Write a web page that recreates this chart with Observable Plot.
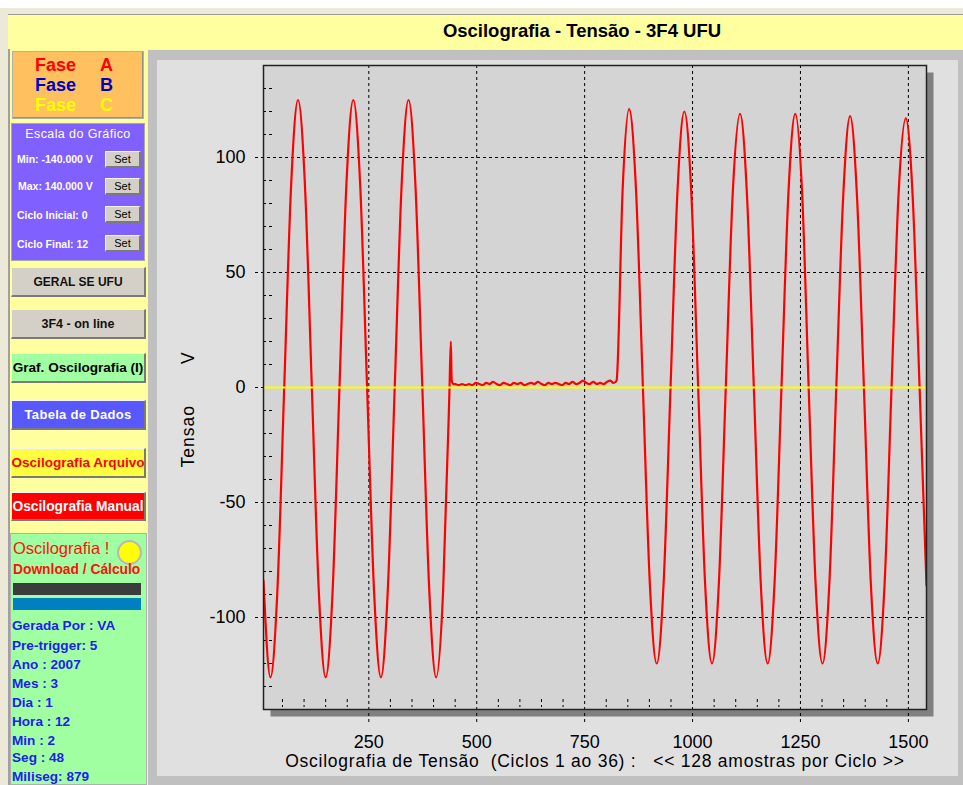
<!DOCTYPE html>
<html><head><meta charset="utf-8">
<script src="https://cdn.jsdelivr.net/npm/d3@7"></script>
<script src="https://cdn.jsdelivr.net/npm/@observablehq/plot@0.6"></script>
<style>
html,body{margin:0;padding:0;}
body{width:963px;height:785px;position:relative;overflow:hidden;background:#fff;font-family:"Liberation Sans",Arial,sans-serif;}
.a{position:absolute;box-sizing:border-box;}
.btn{border-style:solid;border-width:1px 2px 2px 1px;border-color:#f4f4f4 #7a7a7a #7a7a7a #f4f4f4;display:flex;align-items:center;justify-content:center;font-weight:bold;white-space:nowrap;}
.set{background:#d4d0c8;font-size:11px;font-weight:normal;color:#000;}
.row{color:#fff;font-weight:bold;font-size:10.5px;white-space:nowrap;}
.info{color:#2020f0;font-weight:bold;font-size:13.6px;white-space:nowrap;left:12px;}
.fase{font-weight:bold;font-size:18px;line-height:20px;white-space:nowrap;}
</style>
</head><body>
<div class="a" style="left:0;top:8px;width:963px;height:777px;background:#ece9d8;"></div>
<div class="a" style="left:8px;top:14px;width:955px;height:35px;background:#ffffa0;border-top:1px solid #9a9a9a;"></div>
<div class="a" id="title" style="left:382px;top:20px;width:400px;text-align:center;font-weight:bold;font-size:18.5px;">Oscilografia - Tensão - 3F4 UFU</div>
<div class="a" style="left:8px;top:49px;width:140px;height:736px;background:#ffffa0;border-left:2px solid #a0a0a0;"></div>
<div class="a" style="left:147px;top:49px;width:816px;height:736px;background:#c0c0c0;border-left:1px solid #f0f0f0;border-top:1px solid #f0f0f0;"></div>
<div class="a" style="left:157px;top:60px;width:801px;height:716px;background:#e0e0e0;"></div>

<!-- Fase box -->
<div class="a" style="left:12px;top:51px;width:132px;height:68px;background:#ffc060;border:1px solid #b0b0b0;box-shadow:inset -1px -1px 0 #909090;"></div>
<div class="a fase" style="left:35px;top:55px;color:#ff0000;">Fase</div>
<div class="a fase" style="left:100px;top:55px;color:#ff0000;">A</div>
<div class="a fase" style="left:35px;top:75px;color:#0000c0;">Fase</div>
<div class="a fase" style="left:100px;top:75px;color:#0000c0;">B</div>
<div class="a fase" style="left:35px;top:95px;color:#ffff00;">Fase</div>
<div class="a fase" style="left:100px;top:95px;color:#ffff00;">C</div>

<!-- Escala -->
<div class="a" style="left:11px;top:123px;width:134px;height:138px;background:#8060ff;border:1px solid #a8a8a8;"></div>
<div class="a" style="left:11px;top:127px;width:134px;text-align:center;color:#fff;font-size:12.5px;letter-spacing:0.4px;">Escala do Gráfico</div>
<div class="a row" style="left:17px;top:153px;">Min: -140.000 V</div>
<div class="a row" style="left:18px;top:180px;">Max: 140.000 V</div>
<div class="a row" style="left:17px;top:209px;">Ciclo Inicial: 0</div>
<div class="a row" style="left:17px;top:238px;">Ciclo Final: 12</div>
<div class="a btn set" style="left:105px;top:151px;width:36px;height:17px;">Set</div>
<div class="a btn set" style="left:105px;top:178px;width:36px;height:17px;">Set</div>
<div class="a btn set" style="left:105px;top:206px;width:36px;height:17px;">Set</div>
<div class="a btn set" style="left:105px;top:235px;width:36px;height:17px;">Set</div>

<!-- Buttons -->
<div class="a btn" style="left:11px;top:267px;width:135px;height:30px;background:#d4d0c8;font-size:12px;color:#111;">GERAL SE UFU</div>
<div class="a btn" style="left:11px;top:309px;width:135px;height:30px;background:#d4d0c8;font-size:12.5px;color:#111;">3F4 - on line</div>
<div class="a btn" style="left:11px;top:353px;width:135px;height:30px;background:#a0ffa0;font-size:13.6px;color:#000;">Graf. Oscilografia (I)</div>
<div class="a btn" style="left:11px;top:400px;width:135px;height:30px;background:#5858ff;font-size:13px;color:#fff;letter-spacing:0.3px;">Tabela de Dados</div>
<div class="a btn" style="left:11px;top:448px;width:135px;height:30px;background:#ffff40;font-size:13.6px;color:#ff0000;">Oscilografia Arquivo</div>
<div class="a btn" style="left:11px;top:492px;width:135px;height:29px;background:#ff0000;font-size:13.8px;color:#fff;">Oscilografia Manual</div>

<!-- Green info panel -->
<div class="a" style="left:10px;top:533px;width:137px;height:252px;background:#a0ffa0;border:1px solid #b0b0b0;"></div>
<div class="a" style="left:13px;top:539px;color:#ff1010;font-size:16.5px;white-space:nowrap;">Oscilografia !</div>
<div class="a" style="left:117px;top:540px;width:25px;height:25px;border-radius:50%;background:#ffff00;border:2px solid #b8b8b8;"></div>
<div class="a" style="left:13px;top:562px;color:#ff1010;font-size:13.8px;font-weight:bold;white-space:nowrap;">Download / Cálculo</div>
<div class="a" style="left:13px;top:583px;width:128px;height:12px;background:#3c3c3c;"></div>
<div class="a" style="left:13px;top:598px;width:128px;height:12px;background:#0080c0;"></div>
<div class="a info" style="top:618px;">Gerada Por : VA</div>
<div class="a info" style="top:638px;">Pre-trigger: 5</div>
<div class="a info" style="top:657px;">Ano : 2007</div>
<div class="a info" style="top:676px;">Mes : 3</div>
<div class="a info" style="top:695px;">Dia : 1</div>
<div class="a info" style="top:714px;">Hora : 12</div>
<div class="a info" style="top:733px;">Min : 2</div>
<div class="a info" style="top:750px;">Seg : 48</div>
<div class="a info" style="top:769px;">Miliseg: 879</div>

<div class="a" id="chart" style="left:157px;top:60px;"></div>

<script>
// ---- data (sample index, voltage V) ----
const amostras = [
  6,22,38,54,70,86,102,118,134,150,166,182,198,214,230,246,262,278,294,310,326,342,358,374,390,406,422,437,440,442,
  446,450,458,466,474,482,490,498,506,514,522,530,538,546,554,562,570,578,586,594,602,610,618,626,634,642,650,658,666,674,
  682,690,698,706,714,722,730,738,746,754,762,770,778,786,794,802,810,816,822,
  824,838,853,869,885,901,917,933,949,965,981,997,1013,1029,1045,1061,1077,1093,1110,1126,1142,1158,1174,1190,1206,
  1222,1238,1254,1269,1285,1301,1317,1333,1349,1365,1381,1397,1413,1429,1445,1461,1477,1494,1510,1526,1542
];
const tensao = [
  -84,-126,-89,0,88,125,88,0,-88,-126,-89,0,88,125,88,0,-88,-126,-88,0,88,125,88,0,-88,-126,-89,0,20,3,
  1.5,1.5,1,1.5,1,1.5,1,2,1.5,1,2,1.5,2.5,1.5,1,2,1.5,1,2,1.5,2,1,1.5,2,1.5,2.5,1.5,1,2,1.5,
  2,1.5,1,2,1.5,2.5,1.5,2,3,2,1.5,2.5,1.5,2,1.5,2.5,3,2,2.5,
  3,86,121,86,0,-85,-120,-85,0,85,120,85,0,-85,-120,-85,0,84,119,84,0,-85,-120,-85,0,
  84,119,84,0,-85,-120,-85,0,83,118,83,0,-85,-120,-85,0,83,117,83,0,-86
];
const xDominio = [6, 1542];
const yDominio = [-140, 140];
const xPrincipais = [250, 500, 750, 1000, 1250, 1500];
const xSecundarios = [50,100,150,200,300,350,400,450,550,600,650,700,800,850,900,950,1050,1100,1150,1200,1300,1350,1400,1450];
const yPrincipais = [-100, -50, 0, 50, 100];
const ySecundarios = [-130,-120,-110,-90,-80,-70,-60,-40,-30,-20,-10,10,20,30,40,60,70,80,90,110,120,130];
const rotuloX = "Oscilografia de Tensão  (Ciclos 1 ao 36) :   << 128 amostras por Ciclo >>";
const rotuloY = "Tensao       V";

const dados = amostras.map((s, i) => ({s, v: tensao[i]}));

const W = 798, H = 716, mL = 106, mR = 29, mT = 5, mB = 67;
const innerW = W - mL - mR, innerH = H - mT - mB;
const font = "'Liberation Sans', Arial, sans-serif";
const fmt = d => String(d);

const chart = Plot.plot({
  width: W, height: H,
  marginLeft: mL, marginRight: mR, marginTop: mT, marginBottom: mB,
  x: {domain: xDominio, axis: null},
  y: {domain: yDominio, axis: null},
  style: {background: "transparent", fontFamily: font, fontSize: "18px", color: "#000", overflow: "visible"},
  marks: [
    Plot.frame({fill: "#808080", dx: 7, dy: 7}),
    Plot.frame({fill: "#d4d4d4"}),
    Plot.ruleX(xPrincipais, {stroke: "#000", strokeDasharray: "3,3", insetBottom: -16}),
    Plot.ruleY(yPrincipais, {stroke: "#000", strokeDasharray: "3,3", insetLeft: -8}),
    Plot.ruleX(xSecundarios, {stroke: "#000", strokeDasharray: "3,3", insetTop: innerH - 10, insetBottom: 2}),
    Plot.ruleY(ySecundarios, {stroke: "#000", strokeDasharray: "3,3", insetRight: innerW - 9}),
    Plot.line(dados, {x: "s", y: "v", stroke: "#ff0000", strokeWidth: 2.2, curve: "monotone-x", clip: true}),
    Plot.ruleY([0], {stroke: "#ffff00", strokeWidth: 2}),
    Plot.frame({stroke: "#222", strokeWidth: 1.5}),
    Plot.axisX(xPrincipais, {tickSize: 0, tickPadding: 26, label: null, fontSize: 18, tickFormat: fmt}),
    Plot.axisY(yPrincipais, {tickSize: 0, tickPadding: 18, label: null, fontSize: 18, tickFormat: fmt}),
    Plot.text([rotuloX], {frameAnchor: "bottom", dy: 57, fontSize: 17.5}),
    Plot.text([rotuloY], {frameAnchor: "left", textAnchor: "middle", dx: -75, dy: 22, rotate: -90, fontSize: 17.5})
  ]
});
document.getElementById("chart").appendChild(chart);
const sel = d3.select(chart).selectAll("text");
sel.filter(function() { return this.textContent === rotuloX; }).style("letter-spacing", "0.75px");
sel.filter(function() { return this.textContent === rotuloY; }).style("letter-spacing", "1px");
</script>
</body></html>
